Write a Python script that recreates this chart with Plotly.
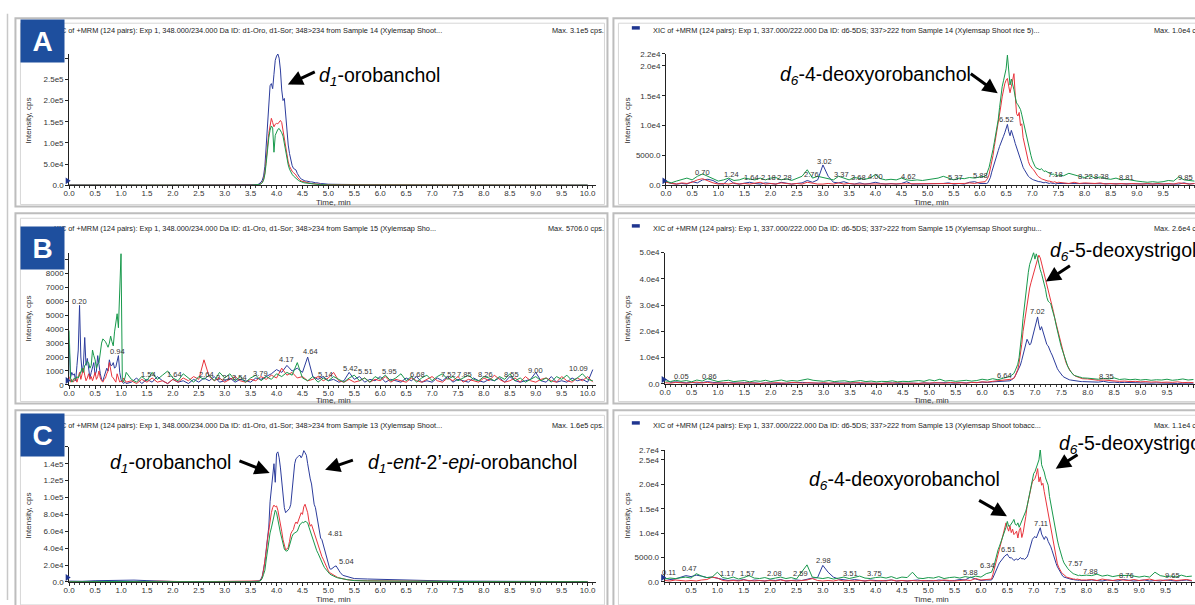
import plotly.graph_objects as go

# ======================= DATA =======================
# Intensities in kcps (thousands of counts per second).
# Each trace = list of segments: (start time [min], sampling step [min], values [kcps])

# ---- Panel A, left: 348>234 (d1-orobanchol), Sample 14 ----
LA_BLUE = [
    (0.0, 0.25, [0.8, 0.5, 0.3, 0.6, 0.4, 0.7, 0.5, 0.3, 0.4, 0.6, 0.3, 0.5, 0.4, 0.6]),
    (3.5, 0.025, [0.5, 0.3, 0.6, 0.8, 1.0, 1.5, 2.5, 4, 7, 12,
                  22, 45, 90, 150, 200, 235, 240, 228, 262, 295,
                  305, 310, 300, 272, 225, 200, 205, 165, 125, 95,
                  75, 58, 47, 40, 38, 36, 28, 22, 18, 15,
                  13, 12, 10, 10, 9, 9, 8, 8, 7, 7,
                  6, 6, 5, 5, 4, 4, 3.5, 3, 3, 3,
                  2.5]),
    (5.25, 0.25, [2.0, 1.5, 1.2, 0.9, 0.8, 0.6, 0.8, 0.5, 0.6, 0.4, 0.5, 0.3, 0.6, 0.4, 0.3, 0.5, 0.4, 0.3, 0.4, 0.3]),
]
LA_RED = [
    (0.0, 0.25, [0.3, 0.2, 0.4, 0.2, 0.3, 0.5, 0.2, 0.3, 0.2, 0.4, 0.3, 0.2, 0.5, 0.3]),
    (3.5, 0.025, [0.2, 0.3, 0.2, 0.4, 0.5, 0.8, 1.2, 2, 4, 7,
                  14, 30, 60, 95, 122, 140, 158, 148, 138, 144,
                  146, 145, 150, 153, 148, 130, 108, 88, 70, 55,
                  45, 38, 33, 30, 28, 24, 19, 15, 12, 10,
                  9, 8, 7, 6, 5.5, 5, 4.5, 4, 3.5, 3,
                  3, 2.5, 2.5, 2, 2, 1.8, 1.5, 1.5, 1.2, 1.2,
                  1.0]),
    (5.25, 0.25, [0.8, 0.6, 0.5, 0.4, 0.5, 0.3, 0.4, 0.3, 0.9, 0.3, 0.4, 0.3, 0.2, 0.4, 0.3, 0.8, 0.3, 0.2, 0.3, 0.2]),
]
LA_GREEN = [
    (0.0, 0.25, [0.2, 0.4, 0.3, 0.6, 0.2, 0.3, 0.5, 0.9, 0.2, 0.3, 0.2, 0.8, 0.3, 0.2]),
    (3.5, 0.025, [0.1, 0.2, 0.3, 0.3, 0.4, 0.6, 1, 1.8, 3.5, 6,
                  12, 26, 52, 85, 112, 130, 140, 135, 78, 118,
                  128, 132, 134, 130, 124, 116, 98, 78, 62, 48,
                  38, 31, 26, 22, 19, 16, 13, 11, 9.5, 8,
                  7, 6, 5.5, 5, 4.5, 4, 3.5, 3, 2.8, 2.5,
                  2.2, 2, 1.8, 1.6, 1.5, 1.3, 1.2, 1.0, 1.0, 0.9,
                  0.8]),
    (5.25, 0.25, [0.6, 0.5, 0.4, 0.3, 0.4, 0.3, 0.2, 0.3, 0.4, 0.3, 0.8, 0.2, 0.3, 0.2, 0.3, 0.2, 0.3, 0.2, 0.2, 0.3]),
]

# ---- Panel A, right: 337>222 (d6-5DS), Sample 14 ----
RA_BLUE = [
    (0.0, 0.1, [0.6, 0.3, 0.2, 0.3, 0.2, 0.6, 0.4, 0.9, 1.0, 0.8,
                0.3, 0.2, 1.0, 0.3, 0.2, 0.3, 0.5, 0.3, 0.2, 0.4,
                0.3, 0.2, 0.5, 0.3, 0.2, 0.3, 0.4, 0.8, 0.5, 0.9,
                3.4, 1.5, 0.5, 0.4, 0.6, 0.3, 0.2, 0.4, 0.2, 0.3,
                0.5, 0.3, 0.2, 0.3, 0.2, 0.3, 0.6, 0.2, 0.2, 0.3,
                0.2, 0.3, 0.2, 0.3, 0.4, 0.2, 0.3, 0.2, 0.5, 0.6,
                0.3]),
    (6.1, 0.025, [0.2, 0.3, 0.4, 0.8, 1.3, 2.2, 3.0, 3.6, 4.5, 5.2,
                  5.8, 6.5, 7.2, 7.8, 8.2, 8.8, 9.4, 10.2, 9.0, 8.3,
                  9.2, 8.6, 7.8, 7.0, 6.3, 5.8, 4.8, 4.0, 3.5, 3.0,
                  2.6, 2.2, 1.8, 1.5, 1.3, 1.1, 1.0, 0.9, 0.8, 0.7,
                  0.7, 0.6, 0.6, 0.5, 0.5, 0.4, 0.5, 0.4, 0.4, 0.3,
                  0.4, 0.3, 0.3, 0.3, 0.2, 0.3, 0.3]),
    (7.6, 0.1, [0.3, 0.2, 0.3, 0.2, 0.3, 0.2, 0.2, 0.3, 0.2, 0.2, 0.3, 0.2, 0.2,
                0.3, 0.2, 0.2, 0.2, 0.3, 0.2, 0.2, 0.3, 0.2, 0.2, 0.4, 0.2, 0.3]),
]
RA_RED = [
    (0.0, 0.1, [0.5, 0.3, 0.2, 0.4, 0.3, 0.5, 0.9, 1.1, 0.7, 0.4,
                0.2, 0.3, 0.2, 0.4, 0.2, 0.3, 0.2, 0.3, 0.5, 0.2,
                0.3, 0.2, 0.4, 0.3, 0.2, 0.3, 0.2, 0.5, 0.3, 0.2,
                0.2, 0.3, 0.2, 0.4, 0.2, 0.3, 0.2, 0.2, 0.3, 0.2,
                0.3, 0.2, 0.2, 0.3, 0.2, 0.2, 0.3, 0.2, 0.2, 0.3,
                0.2, 0.3, 0.2, 0.3, 0.2, 0.3, 0.2, 0.3, 0.4, 0.3,
                0.5]),
    (6.1, 0.025, [0.6, 0.9, 1.2, 1.8, 2.8, 3.8, 5.0, 6.5, 7.8, 9.0,
                  10.0, 11.5, 13.3, 14.8, 16.3, 17.0, 17.6, 17.9, 16.6, 15.5,
                  16.5, 17.5, 18.7, 15.0, 12.0, 11.6, 12.2, 10.0, 10.3, 8.0,
                  7.0, 6.0, 4.8, 4.0, 3.4, 3.0, 2.8, 2.6, 2.2, 1.8,
                  1.6, 1.4, 1.2, 1.1, 1.0, 0.9, 0.8, 0.8, 0.7, 0.7,
                  0.6, 0.6, 0.5, 0.6, 0.5, 0.4, 0.5]),
    (7.6, 0.1, [0.4, 0.3, 0.5, 0.3, 0.4, 0.3, 0.3, 0.4, 0.2, 0.3, 0.2, 0.3, 0.2,
                0.3, 0.2, 0.2, 0.3, 0.2, 0.3, 0.2, 0.3, 0.2, 0.4, 0.3, 0.2, 0.3]),
]
RA_GREEN = [
    (0.0, 0.1, [0.7, 0.4, 0.7, 0.9, 1.2, 0.9, 1.5, 1.9, 1.5, 1.2,
                0.7, 0.9, 1.2, 0.8, 0.9, 1.2, 1.1, 0.9, 1.2, 0.9,
                1.2, 1.3, 0.9, 1.1, 0.8, 1.2, 1.5, 2.6, 1.2, 1.5,
                1.3, 1.2, 0.9, 1.5, 1.2, 0.9, 1.3, 1.2, 1.0, 1.2,
                1.8, 1.1, 0.9, 1.0, 0.9, 1.2, 0.9, 0.8, 0.9, 0.8,
                0.9, 1.1, 1.2, 1.5, 1.2, 0.9, 1.2, 1.1, 1.3, 1.2,
                1.4]),
    (6.1, 0.025, [1.5, 1.8, 2.3, 3.0, 4.0, 4.8, 6.0, 7.2, 8.5, 9.5,
                  11.0, 13.0, 15.0, 16.5, 17.5, 18.5, 19.5, 21.8, 18.5, 16.8,
                  17.8, 17.0, 16.0, 14.8, 13.8, 13.5, 13.2, 12.7, 11.8, 10.8,
                  9.8, 8.5, 7.5, 6.6, 5.6, 5.0, 4.2, 3.5, 3.2, 2.9,
                  2.8, 2.7, 2.6, 2.8, 2.5, 2.3, 2.4, 2.3, 2.2, 2.0,
                  1.9, 1.8, 1.9, 1.7, 1.8, 1.6, 1.7]),
    (7.6, 0.1, [1.6, 2.0, 1.7, 1.5, 1.3, 1.6, 1.2, 1.4, 1.1, 1.0, 1.2, 0.9, 1.0,
                0.8, 0.7, 0.6, 0.5, 0.6, 0.5, 0.6, 0.8, 0.7, 1.4, 0.9, 0.8, 0.7]),
]

# ---- Panel B, left: 348>234, Sample 15 ----
LB_BLUE = [
    (0.0, 0.025, [2.9, 0.5, 0.9, 0.7, 0.8, 0.3, 1.4, 2.5, 5.7, 2.0,
                  0.9, 1.5, 3.4, 1.4, 1.9, 1.0, 0.5, 0.9, 1.3, 1.6,
                  0.7, 1.0, 2.1, 1.2, 0.8, 0.4, 0.3, 0.6, 0.9, 1.2,
                  1.0, 1.8, 1.4, 1.4, 1.6, 1.2, 1.3, 1.8, 2.1, 0.9,
                  0.4, 0.2, 0.1, 0.2, 0.1]),
    (1.2, 0.1, [0.2, 0.5, 0.1, 0.4, 0.2, 0.6, 0.3, 0.1, 0.4, 0.2,
                0.3, 0.1, 0.4, 0.2, 0.5, 0.3, 0.6, 0.2, 0.3, 0.5,
                0.2, 0.4, 0.3, 0.2, 0.5, 0.4, 0.6, 0.8, 1.1, 0.9,
                1.4, 1.0, 1.2, 0.9, 2.0, 0.6, 0.4, 0.6, 0.3, 0.4,
                0.2, 0.3, 0.9, 0.4, 0.6, 0.2, 0.4, 0.3, 0.6, 0.2,
                0.4, 0.3, 0.2, 0.5, 0.3, 0.6, 0.2, 0.3, 0.2, 0.5,
                0.3, 0.6, 0.2, 0.4, 0.3, 0.2, 0.5, 0.3, 0.2, 0.4,
                0.3, 0.5, 0.2, 0.6, 0.3, 0.2, 0.3, 0.4, 0.9, 0.3,
                0.2, 0.6, 0.2, 0.3, 0.2, 0.5, 0.3, 0.4, 0.2, 1.1]),
]
LB_RED = [
    (0.0, 0.025, [0.6, 0.2, 0.4, 0.2, 0.3, 0.5, 0.2, 0.6, 0.9, 0.4,
                  0.8, 1.2, 0.7, 0.3, 0.5, 0.8, 0.4, 0.6, 0.3, 0.7,
                  0.9, 0.4, 0.6, 1.0, 0.5, 0.3, 0.2, 0.4, 0.5, 0.8,
                  1.0, 1.6, 1.2, 0.6, 0.5, 0.3, 0.2, 0.8, 0.4, 0.2,
                  0.3, 0.2, 0.5, 0.3, 0.2]),
    (1.2, 0.1, [0.3, 0.1, 0.4, 0.2, 0.5, 0.2, 0.3, 0.1, 0.4, 0.2,
                0.5, 0.3, 0.6, 0.4, 1.8, 0.6, 0.3, 0.5, 0.2, 0.4,
                0.6, 0.3, 0.2, 0.4, 0.3, 0.6, 0.4, 0.7, 0.5, 1.2,
                0.7, 0.9, 0.5, 0.6, 0.3, 0.4, 0.6, 0.3, 0.5, 0.9,
                0.3, 0.2, 0.4, 0.2, 0.3, 0.5, 0.2, 0.4, 0.3, 0.6,
                0.2, 0.4, 0.3, 0.2, 0.5, 0.3, 0.2, 0.4, 0.6, 0.3,
                0.2, 0.5, 0.3, 0.6, 0.2, 0.4, 0.3, 0.2, 0.5, 0.3,
                0.7, 0.4, 0.2, 0.3, 0.5, 0.2, 0.6, 0.3, 0.2, 0.4,
                0.5, 0.3, 0.2, 0.6, 0.3, 0.2, 0.5, 0.3, 0.6, 0.2]),
]
LB_GREEN = [
    (0.0, 0.025, [3.9, 0.5, 0.2, 0.3, 0.5, 0.4, 0.6, 0.5, 0.7, 1.0,
                  1.2, 0.9, 1.4, 1.5, 1.7, 1.6, 1.2, 1.4, 2.5, 2.1,
                  1.8, 1.2, 1.5, 1.6, 2.5, 3.0, 3.3, 3.2, 3.1, 2.9,
                  2.7, 3.0, 3.5, 3.1, 2.8, 3.8, 4.6, 5.1, 4.1, 6.4,
                  9.4, 0.4, 0.2, 0.5, 0.9]),
    (1.2, 0.1, [0.4, 0.2, 0.6, 0.3, 0.9, 0.4, 0.7, 1.0, 0.5, 0.3,
                0.8, 0.5, 0.2, 0.6, 0.4, 0.7, 0.3, 0.9, 0.5, 0.8,
                0.3, 0.6, 0.2, 0.5, 0.7, 0.3, 0.6, 0.4, 0.8, 0.6,
                0.9, 0.7, 1.6, 0.5, 0.3, 0.6, 0.2, 0.5, 0.3, 0.6,
                0.4, 0.2, 0.5, 0.7, 0.3, 0.5, 0.2, 0.6, 0.4, 0.7,
                0.3, 0.5, 0.8, 0.3, 0.6, 0.2, 0.5, 0.7, 0.3, 0.6,
                0.8, 0.4, 0.6, 0.3, 0.5, 0.7, 0.4, 0.3, 0.6, 0.5,
                0.3, 0.6, 0.4, 0.8, 0.3, 0.5, 0.2, 0.4, 0.6, 0.3,
                0.5, 0.2, 0.6, 0.4, 0.7, 0.3, 0.5, 0.8, 0.4, 0.3]),
]

# ---- Panel B, right: 337>222, Sample 15 ----
RB_BLUE = [
    (0.0, 0.1, [2.0, 0.6, 0.8, 0.5, 0.4, 0.6, 0.3, 0.5, 0.9, 0.6,
                0.4, 0.3, 0.5, 0.4, 0.3, 0.5, 0.3, 0.4, 0.2, 0.4,
                0.3, 0.4, 0.2, 0.3, 0.4, 0.3, 0.6, 0.4, 0.3, 0.4,
                0.3, 0.2, 0.4, 0.3, 0.2, 0.3, 0.4, 0.2, 0.3, 0.2,
                0.3, 0.2, 0.3, 0.4, 0.2, 0.3, 0.2, 0.3, 0.2, 0.4,
                0.3, 0.4, 0.3, 0.5, 0.4, 0.3, 0.5, 0.4, 0.6, 0.5,
                0.7, 0.6, 0.8, 0.9, 1.0]),
    (6.5, 0.025, [1.0, 1.2, 1.5, 1.8, 2.2, 3.0, 4.0, 5.0, 6.0, 7.2,
                  9.0, 11.0, 13.0, 15.0, 17.0, 16.0, 14.8, 15.5, 17.5, 20.0,
                  21.5, 23.0, 25.5, 22.5, 20.5, 21.8, 20.0, 18.5, 17.0, 15.0,
                  14.5, 13.0, 12.0, 11.0, 9.5, 8.0, 6.8, 5.8, 5.0, 4.2,
                  3.5, 3.0, 2.6, 2.3, 2.0, 1.8, 1.6, 1.5, 1.4, 1.3,
                  1.2, 1.1, 1.1, 1.0, 1.0, 0.9, 0.9]),
    (8.0, 0.1, [0.8, 0.9, 0.7, 1.0, 0.6, 0.7, 0.5, 0.6, 0.5, 0.4, 0.5,
                0.4, 0.3, 0.4, 0.3, 0.4, 0.3, 0.2, 0.3, 0.2, 0.3]),
]
RB_RED = [
    (0.0, 0.1, [0.5, 0.3, 0.6, 0.4, 0.3, 0.5, 0.7, 0.4, 0.6, 0.3,
                0.4, 0.3, 0.5, 0.2, 0.4, 0.3, 0.5, 0.3, 0.2, 0.4,
                0.3, 0.5, 0.4, 0.3, 0.6, 0.4, 0.3, 0.5, 0.4, 0.3,
                0.5, 0.3, 0.4, 0.2, 0.3, 0.4, 0.3, 0.5, 0.3, 0.4,
                0.3, 0.2, 0.4, 0.3, 0.5, 0.3, 0.4, 0.3, 0.2, 0.4,
                0.3, 0.5, 0.4, 0.3, 0.6, 0.4, 0.5, 0.3, 0.6, 0.5,
                0.8, 0.7, 1.0, 1.2, 1.4]),
    (6.5, 0.025, [1.5, 1.6, 1.8, 2.0, 2.1, 3.0, 4.0, 5.5, 8.0, 11.0,
                  15.0, 20.0, 23.5, 27.5, 31.0, 34.0, 36.5, 38.5, 40.5, 42.5,
                  44.0, 45.5, 47.5, 49.0, 48.0, 46.0, 44.0, 42.5, 40.0, 38.0,
                  36.0, 34.0, 32.0, 29.5, 27.5, 25.0, 23.0, 20.5, 18.0, 16.0,
                  14.0, 12.0, 10.5, 9.0, 7.5, 6.5, 5.5, 4.8, 4.2, 3.6,
                  3.2, 2.9, 2.7, 2.5, 2.3, 2.2, 2.0]),
    (8.0, 0.1, [1.9, 1.6, 1.4, 1.5, 1.3, 1.2, 1.0, 1.1, 0.9, 1.0, 0.8,
                0.9, 0.7, 0.8, 0.6, 0.7, 0.6, 0.8, 0.5, 0.6, 0.5]),
]
RB_GREEN = [
    (0.0, 0.1, [1.2, 0.9, 1.4, 1.0, 1.3, 0.8, 1.5, 1.1, 2.0, 1.3,
                0.9, 1.2, 1.4, 0.9, 1.1, 1.3, 0.8, 1.2, 1.0, 1.4,
                0.9, 1.2, 1.5, 1.0, 1.3, 1.1, 1.6, 1.9, 1.4, 1.2,
                1.0, 1.3, 0.9, 1.1, 1.2, 0.8, 1.0, 1.3, 0.9, 1.1,
                0.8, 1.0, 0.9, 1.2, 0.8, 1.0, 0.9, 1.1, 1.3, 1.0,
                1.6, 1.2, 1.8, 1.1, 1.3, 1.0, 1.2, 1.4, 1.1, 1.3,
                1.8, 1.5, 2.0, 1.6, 2.2]),
    (6.5, 0.025, [2.5, 2.8, 3.2, 3.5, 4.0, 5.0, 6.2, 7.5, 10.0, 14.0,
                  19.0, 25.0, 30.0, 34.5, 38.5, 42.5, 45.5, 47.0, 48.8, 50.0,
                  47.5, 49.5, 48.0, 45.5, 43.5, 42.0, 40.0, 38.5, 36.0, 33.0,
                  31.5, 31.0, 30.5, 28.5, 27.0, 25.0, 22.5, 20.0, 17.8, 16.0,
                  14.0, 12.5, 11.0, 9.5, 7.5, 6.5, 5.5, 4.8, 4.0, 3.5,
                  3.2, 3.0, 2.8, 2.7, 2.6, 2.5, 2.3]),
    (8.0, 0.1, [2.2, 2.0, 1.8, 2.1, 1.9, 2.3, 1.7, 1.9, 1.6, 1.8, 1.5,
                1.7, 1.4, 1.6, 1.5, 1.8, 1.4, 1.6, 1.9, 1.5, 1.7]),
]

# ---- Panel C, left: 348>234, Sample 13 ----
LC_BLUE = [
    (0.0, 0.25, [1.0, 0.8, 1.5, 2.0, 1.8, 2.2, 1.6, 0.8, 0.6, 0.5, 0.7, 0.5, 0.4, 0.6, 0.5]),
    (3.6, 0.025, [0.5, 0.8, 1.2, 2.0, 3.5, 7.0, 14.0, 24.0, 38.0, 52.0,
                  65.0, 95.0, 112.0, 130.0, 140.0, 118.0, 152.0, 154.0, 147.0, 135.0,
                  118.0, 100.0, 88.0, 82.0, 84.0, 86.0, 87.0, 92.0, 110.0, 128.0,
                  140.0, 146.0, 148.0, 149.0, 150.0, 147.0, 150.0, 155.5, 153.0, 150.0,
                  140.0, 128.0, 122.0, 116.0, 102.0, 92.0, 88.0, 78.0, 70.0, 60.0,
                  52.0, 50.0, 44.0, 40.0, 34.0, 26.0, 20.0, 16.0, 15.0, 16.5,
                  17.5, 18.5, 19.0, 17.0, 14.0, 11.5, 9.5, 8.0, 7.5, 7.0,
                  6.5, 6.0, 5.8, 5.5, 5.0, 4.5, 4.0]),
    (5.75, 0.25, [3.5, 3.0, 2.5, 2.0, 1.8, 1.5, 1.2, 1.0, 0.9, 0.8, 0.7, 0.6, 0.6, 0.5, 0.5, 0.4, 0.4, 0.4]),
]
LC_RED = [
    (0.0, 0.25, [0.4, 0.3, 0.5, 0.6, 0.4, 0.3, 0.5, 0.9, 0.3, 0.4, 0.3, 0.5, 0.3, 0.4, 0.3]),
    (3.6, 0.025, [0.3, 0.5, 0.8, 1.2, 2.5, 6.0, 14.0, 24.0, 36.0, 50.0,
                  62.0, 72.0, 82.0, 88.0, 91.0, 89.0, 90.0, 85.0, 78.0, 70.0,
                  60.0, 50.0, 42.0, 38.0, 39.0, 41.0, 48.0, 57.0, 60.0, 62.0,
                  68.0, 71.0, 69.0, 74.0, 80.0, 82.0, 80.0, 89.0, 92.0, 88.0,
                  82.0, 72.0, 66.0, 68.0, 63.0, 57.0, 52.0, 48.0, 44.0, 38.0,
                  34.0, 30.0, 27.0, 23.0, 19.0, 16.0, 13.0, 11.0, 10.0, 8.5,
                  7.5, 6.5, 6.0, 5.5, 5.0, 4.5, 4.0, 3.6, 3.3, 3.0,
                  2.8, 2.6, 2.4, 2.2, 2.0, 1.9, 1.8]),
    (5.75, 0.25, [1.4, 1.2, 1.0, 0.9, 0.8, 0.7, 0.8, 0.6, 0.5, 0.6, 0.5, 0.4, 0.5, 0.4, 0.3, 0.4, 0.3, 0.3]),
]
LC_GREEN = [
    (0.0, 0.25, [0.3, 0.5, 0.4, 0.3, 0.6, 0.4, 0.3, 0.5, 0.3, 0.6, 0.4, 0.3, 0.5, 0.3, 0.2]),
    (3.6, 0.025, [0.2, 0.4, 0.6, 1.0, 2.0, 4.5, 9.0, 14.0, 26.0, 38.0,
                  50.0, 58.0, 64.0, 72.0, 80.0, 85.0, 82.0, 73.0, 66.0, 58.0,
                  52.0, 44.0, 39.0, 37.0, 36.5, 38.0, 44.0, 50.0, 54.0, 57.0,
                  58.0, 59.5, 60.0, 64.0, 68.0, 69.0, 71.0, 70.0, 72.0, 71.0,
                  70.0, 65.0, 60.0, 57.0, 52.0, 47.0, 42.0, 37.0, 34.0, 30.0,
                  27.0, 24.0, 20.0, 17.0, 15.0, 13.0, 11.0, 9.5, 8.5, 7.5,
                  6.5, 6.0, 5.5, 5.0, 4.6, 4.2, 3.8, 3.5, 3.2, 3.0,
                  2.8, 2.6, 2.4, 2.2, 2.0, 1.8, 1.6]),
    (5.75, 0.25, [1.2, 1.0, 0.9, 0.8, 0.7, 0.6, 0.5, 0.6, 0.5, 0.4, 0.5, 0.4, 0.3, 0.4, 0.3, 0.3, 0.4, 0.3]),
]

# ---- Panel C, right: 337>222, Sample 13 ----
RC_BLUE = [
    (0.0, 0.1, [0.8, 0.5, 0.6, 1.0, 1.3, 1.1, 1.4, 1.2, 0.9, 1.0,
                0.8, 0.5, 0.3, 0.4, 0.3, 0.5, 0.2, 0.4, 0.3, 0.2,
                0.4, 0.3, 0.5, 0.2, 0.3, 0.4, 0.3, 0.6, 0.8, 0.9,
                3.4, 2.0, 1.0, 0.6, 0.4, 0.3, 0.5, 0.3, 0.2, 0.4,
                0.3, 0.2, 0.3, 0.4, 0.2, 0.3, 0.2, 0.3, 0.4, 0.2,
                0.3, 0.2, 0.4, 0.3, 0.2, 0.3, 0.5, 0.4, 1.0, 0.6,
                0.3, 0.4]),
    (6.2, 0.025, [0.4, 0.8, 1.35, 2.0, 2.7, 3.3, 3.9, 4.3, 4.6, 5.0,
                  5.3, 5.5, 5.7, 5.2, 4.9, 5.0, 4.6, 4.4, 4.6, 4.7,
                  4.5, 4.8, 5.0, 4.7, 4.8, 4.6, 4.9, 5.1, 5.8, 6.8,
                  7.8, 8.7, 9.1, 9.3, 9.0, 9.6, 10.4, 11.1, 9.8, 9.2,
                  8.7, 9.3, 9.1, 8.3, 7.8, 7.2, 6.4, 5.4, 4.6, 3.8,
                  3.1, 2.6, 2.0, 1.6, 1.2, 1.0, 0.9, 0.8, 0.7, 0.6,
                  0.6, 0.5, 0.5, 0.4, 0.4, 0.4, 0.3, 0.4, 0.3]),
    (8.0, 0.1, [0.3, 0.4, 0.3, 0.2, 0.4, 0.3, 0.2, 0.5, 0.3, 0.2, 0.3,
                0.4, 0.2, 0.3, 0.2, 0.4, 0.3, 0.2, 0.3, 0.4, 0.2]),
]
RC_RED = [
    (0.0, 0.1, [0.3, 0.2, 0.4, 0.3, 0.2, 0.3, 0.2, 0.4, 0.5, 1.0,
                0.8, 0.3, 0.2, 0.3, 0.2, 0.4, 0.3, 0.2, 0.3, 0.2,
                0.3, 0.2, 0.4, 0.2, 0.3, 0.2, 0.3, 0.4, 0.7, 0.3,
                0.2, 0.3, 0.2, 0.4, 0.2, 0.3, 0.2, 0.3, 0.2, 0.3,
                0.2, 0.3, 0.2, 0.4, 0.2, 0.3, 0.2, 0.3, 0.2, 0.3,
                0.2, 0.3, 0.2, 0.4, 0.3, 0.2, 0.3, 0.4, 0.3, 0.7,
                0.4, 0.5]),
    (6.2, 0.025, [0.6, 1.5, 2.7, 3.8, 4.7, 5.7, 6.7, 7.7, 8.7, 10.0,
                  11.0, 12.1, 11.2, 10.4, 11.5, 10.1, 10.8, 9.7, 10.0, 10.4,
                  9.0, 10.5, 11.1, 9.1, 10.1, 11.5, 13.4, 15.5, 17.0, 18.1,
                  19.3, 20.5, 20.9, 21.2, 22.0, 23.2, 20.5, 21.5, 19.8, 20.2,
                  18.5, 17.0, 15.5, 13.8, 12.1, 10.7, 9.4, 7.8, 6.1, 4.9,
                  3.7, 3.0, 2.4, 2.0, 1.7, 1.4, 1.2, 1.0, 0.9, 0.8,
                  0.7, 0.7, 0.6, 0.6, 0.5, 0.6, 0.5, 0.5, 0.4]),
    (8.0, 0.1, [0.4, 0.5, 0.3, 0.6, 0.4, 0.3, 0.5, 0.4, 0.3, 0.5, 0.3,
                0.4, 0.6, 0.3, 0.4, 0.3, 0.5, 0.3, 0.4, 0.5, 0.3]),
]
RC_GREEN = [
    (0.0, 0.1, [0.6, 0.8, 0.7, 0.9, 1.0, 0.8, 1.7, 1.2, 0.9, 1.0,
                2.0, 0.9, 0.7, 1.0, 0.6, 0.9, 1.3, 0.8, 0.7, 0.9,
                0.6, 0.8, 1.0, 0.7, 0.9, 0.6, 2.0, 3.5, 1.0, 0.8,
                0.7, 0.9, 0.6, 0.8, 1.0, 0.7, 0.9, 1.2, 0.8, 0.7,
                0.9, 1.0, 0.8, 1.1, 0.7, 1.0, 0.9, 2.0, 0.8, 0.7,
                0.9, 0.8, 1.1, 0.7, 0.9, 1.0, 0.8, 1.1, 0.9, 1.2,
                1.0, 1.7]),
    (6.2, 0.025, [2.0, 2.6, 3.4, 4.5, 5.8, 6.6, 7.3, 8.1, 8.8, 9.6,
                  10.3, 11.2, 12.4, 11.4, 11.5, 11.8, 12.3, 12.8, 11.8, 11.6,
                  12.1, 11.2, 11.8, 12.4, 13.0, 13.6, 14.5, 15.5, 16.8, 18.0,
                  19.5, 21.2, 22.2, 22.6, 23.5, 24.4, 25.0, 27.2, 24.0, 23.2,
                  22.5, 21.3, 20.4, 19.8, 17.5, 16.0, 14.5, 12.5, 11.0, 9.7,
                  8.6, 7.4, 6.3, 5.5, 4.6, 3.9, 3.4, 3.0, 2.7, 2.4,
                  2.1, 1.9, 1.7, 1.6, 1.5, 1.4, 1.3, 1.4, 1.3]),
    (8.0, 0.1, [1.4, 1.3, 1.6, 1.2, 1.4, 1.1, 1.3, 1.4, 1.35, 1.2, 1.0,
                1.2, 1.0, 2.0, 1.3, 1.1, 1.2, 1.0, 1.4, 1.1, 1.2]),
]

# ---- peak labels (retention-time text, drawn position: time [min], height [kcps]) ----
LA_LAB = ["4.02"]
LA_LAB_T = [4.02]
LA_LAB_V = [319.3]
RA_LAB = ["0.70", "1.24", "1.64", "2.18", "2.28", "2.76", "3.02", "3.37", "3.68", "4.00",
          "4.62", "5.37", "5.88", "6.52", "7.18", "8.22", "8.38", "8.81", "9.85"]
RA_LAB_T = [0.70, 1.25, 1.64, 1.95, 2.27, 2.78, 3.03, 3.36, 3.68, 4.00,
            4.63, 5.53, 6.02, 6.51, 7.45, 8.02, 8.33, 8.81, 9.92]
RA_LAB_V = [2.19, 1.76, 1.37, 1.37, 1.37, 1.86, 4.06, 1.76, 1.37, 1.48,
            1.48, 1.37, 1.60, 11.07, 1.76, 1.48, 1.48, 1.37, 1.37]
LB_LAB = ["0.20", "0.94", "1.54", "1.64", "2.64", "3.21", "3.54", "3.79", "4.17", "4.64", "5.14",
          "5.42", "5.51", "5.95", "6.68", "7.52", "7.85", "8.26", "8.55", "9.00", "10.09"]
LB_LAB_T = [0.19, 0.93, 1.53, 2.04, 2.65, 2.97, 3.29, 3.69, 4.19, 4.65, 4.95,
            5.43, 5.72, 6.17, 6.71, 7.32, 7.63, 8.03, 8.54, 9.00, 9.82]
LB_LAB_V = [5.99, 2.40, 0.78, 0.78, 0.78, 0.54, 0.54, 0.83, 1.81, 2.40, 0.78,
            1.18, 0.95, 0.95, 0.78, 0.78, 0.78, 0.78, 0.78, 1.06, 1.18]
RB_LAB = ["0.05", "0.86", "6.64", "7.02", "8.35"]
RB_LAB_T = [0.30, 0.83, 6.43, 7.05, 8.35]
RB_LAB_V = [2.77, 3.00, 3.15, 27.7, 2.77]
LC_LAB = ["3.99", "4.53", "4.81", "5.04"]
LC_LAB_T = [4.06, 4.62, 5.13, 5.34]
LC_LAB_V = [161.4, 162.6, 56.9, 24.3]
RC_LAB = ["0.11", "0.47", "1.17", "1.57", "2.08", "2.59", "2.98", "3.51", "3.75", "5.88",
          "6.34", "6.51", "7.11", "7.57", "7.88", "8.76", "9.65"]
RC_LAB_T = [0.09, 0.48, 1.19, 1.58, 2.09, 2.57, 3.01, 3.53, 3.98, 5.81,
            6.13, 6.52, 7.13, 7.80, 8.07, 8.76, 9.63]
RC_LAB_V = [2.02, 2.70, 1.69, 1.69, 1.69, 1.69, 4.37, 1.76, 1.69, 2.02,
            3.36, 6.59, 11.96, 3.70, 2.22, 1.34, 1.34]

# ---- axis tick values / labels ----
X_TICKS = [i * 0.5 for i in range(21)]
X_TICKS_RC = [i * 0.5 for i in range(1, 21)]
LA_YT = [0, 5e4, 1e5, 1.5e5, 2e5, 2.5e5, 3e5]
LA_YL = ["0.0", "5.0e4", "1.0e5", "1.5e5", "2.0e5", "2.5e5", "3.0e5"]
RA_YT = [0, 5000, 1e4, 1.5e4, 2e4, 2.2e4]
RA_YL = ["0.0", "5000.0", "1.0e4", "1.5e4", "2.0e4", "2.2e4"]
LB_YT = [i * 1000 for i in range(10)]
LB_YL = [str(i * 1000) for i in range(10)]
RB_YT = [0, 1e4, 2e4, 3e4, 4e4, 5e4]
RB_YL = ["0.0", "1.0e4", "2.0e4", "3.0e4", "4.0e4", "5.0e4"]
LC_YT = [0, 2e4, 4e4, 6e4, 8e4, 1e5, 1.2e5, 1.4e5, 1.6e5]
LC_YL = ["0.0", "2.0e4", "4.0e4", "6.0e4", "8.0e4", "1.0e5", "1.2e5", "1.4e5", "1.6e5"]
RC_YT = [0, 5000, 1e4, 1.5e4, 2e4, 2.5e4, 2.7e4]
RC_YL = ["0.0", "5000.0", "1.0e4", "1.5e4", "2.0e4", "2.5e4", "2.7e4"]

HDR_L = "XIC of +MRM (124 pairs): Exp 1, 348.000/234.000 Da ID: d1-Oro, d1-Sor; 348>234 from Sample {}"
HDR_R = "XIC of +MRM (124 pairs): Exp 1, 337.000/222.000 Da ID: d6-5DS; 337>222 from Sample {}"

# ======================= FIGURE =======================
W, H = 1195, 605
FONT = "Liberation Sans, Arial, sans-serif"
BLUE, RED, GREEN = "#2c3c9c", "#e8343c", "#18994c"


def px(x):
    return x / W


def py(y):
    return 1 - y / H


def build(segs):
    t, v = [], []
    for t0, dt, vals in segs:
        for i, val in enumerate(vals):
            t.append(round(t0 + i * dt, 4))
            v.append(val * 1000.0)
    return t, v


# panel geometry (pixels): x-domain, x-range, y-domain (top, bottom), y-max
PANELS = [
    dict(key="LA", xd=(63.5, 593.4), xr=10.17, yd=(50.7, 184.0), ymax=3.1e5,
         traces=(LA_BLUE, LA_RED, LA_GREEN), yt=(LA_YT, LA_YL), xt=X_TICKS,
         lab=(LA_LAB, LA_LAB_T, LA_LAB_V)),
    dict(key="RA", xd=(663.3, 1195.0), xr=10.11, yd=(50.7, 184.0), ymax=2.2e4,
         traces=(RA_BLUE, RA_RED, RA_GREEN), yt=(RA_YT, RA_YL), xt=X_TICKS,
         lab=(RA_LAB, RA_LAB_T, RA_LAB_V)),
    dict(key="LB", xd=(63.5, 593.4), xr=10.17, yd=(252.8, 386.7), ymax=9450,
         traces=(LB_BLUE, LB_RED, LB_GREEN), yt=(LB_YT, LB_YL), xt=X_TICKS,
         lab=(LB_LAB, LB_LAB_T, LB_LAB_V)),
    dict(key="RB", xd=(662.5, 1195.0), xr=10.03, yd=(252.3, 385.7), ymax=5e4,
         traces=(RB_BLUE, RB_RED, RB_GREEN), yt=(RB_YT, RB_YL), xt=X_TICKS,
         lab=(RB_LAB, RB_LAB_T, RB_LAB_V)),
    dict(key="LC", xd=(63.5, 593.4), xr=10.17, yd=(449.5, 586.7), ymax=1.6e5,
         traces=(LC_BLUE, LC_RED, LC_GREEN), yt=(LC_YT, LC_YL), xt=X_TICKS,
         lab=(LC_LAB, LC_LAB_T, LC_LAB_V)),
    dict(key="RC", xd=(662.0, 1195.0), xr=10.06, yd=(452.8, 586.7), ymax=2.7e4,
         traces=(RC_BLUE, RC_RED, RC_GREEN), yt=(RC_YT, RC_YL), xt=X_TICKS_RC,
         lab=(RC_LAB, RC_LAB_T, RC_LAB_V)),
]

fig = go.Figure()
layout = dict(width=W, height=H, margin=dict(l=0, r=0, t=0, b=0),
              paper_bgcolor="white", plot_bgcolor="white", showlegend=False,
              font=dict(family=FONT, size=8, color="#333"))
annotations = []
shapes = []

for i, p in enumerate(PANELS):
    n = "" if i == 0 else str(i + 1)
    xa, ya = "x" + n, "y" + n
    for segs, col in zip(p["traces"], (BLUE, RED, GREEN)):
        t, v = build(segs)
        fig.add_trace(go.Scatter(x=t, y=v, mode="lines", xaxis=xa, yaxis=ya,
                                 line=dict(color=col, width=1), hoverinfo="skip"))
    layout["xaxis" + n] = dict(
        domain=[px(p["xd"][0]), px(p["xd"][1])], range=[0, p["xr"]], anchor=ya,
        showline=True, linecolor="#222", linewidth=1, ticks="outside", ticklen=3,
        tickcolor="#222", tickmode="array", tickvals=p["xt"],
        ticktext=[f"{v:.1f}" for v in p["xt"]], ticklabelstandoff=-3,
        tickfont=dict(family=FONT, size=8, color="#333"),
        minor=dict(tickmode="linear", tick0=0, dtick=0.1, ticks="outside", ticklen=2, tickcolor="#444"),
        showgrid=False, zeroline=False, fixedrange=True)
    layout["yaxis" + n] = dict(
        domain=[py(p["yd"][1]), py(p["yd"][0])], range=[0, p["ymax"]], anchor=xa,
        showline=True, linecolor="#222", linewidth=1, ticks="outside", ticklen=3,
        tickcolor="#222", tickmode="array", tickvals=p["yt"][0], ticktext=p["yt"][1],
        tickfont=dict(family=FONT, size=8, color="#333"),
        showgrid=False, zeroline=False, fixedrange=True)
    labs, lt, lv = p["lab"]
    for txt, tt, vv in zip(labs, lt, lv):
        annotations.append(dict(x=tt, y=vv * 1000, xref=xa, yref=ya, text=txt, showarrow=False,
                                font=dict(family=FONT, size=7.5, color="#333"),
                                xanchor="center", yanchor="middle"))
    # small start-of-trace marker at the foot of each y axis
    ax0, yb = p["xd"][0], p["yd"][1]
    shapes.append(dict(type="path", xref="paper", yref="paper",
                       path=f"M {px(ax0 - 3.5)} {py(yb - 8)} L {px(ax0 - 3.5)} {py(yb - 1)} "
                            f"L {px(ax0 + 1.5)} {py(yb - 4.5)} Z",
                       fillcolor="#1f3590", line=dict(width=0)))

# ---- panel frames ----
ROWS = [(14.5, 205.5), (212.5, 405.5), (412.5, 612.0)]
COLS = [(9.5, 604.5), (610.5, 1202.0)]
for (y0, y1) in ROWS:
    for (x0, x1) in COLS:
        shapes.append(dict(type="rect", xref="paper", yref="paper", x0=px(x0), x1=px(x1),
                           y0=py(y1), y1=py(y0), line=dict(color="#bdbdbd", width=2)))
        shapes.append(dict(type="rect", xref="paper", yref="paper", x0=px(x0 + 5), x1=px(x1 - 3),
                           y0=py(y1 - 2), y1=py(y0 + 5), line=dict(color="#d6d6d6", width=1)))
shapes.append(dict(type="line", xref="paper", yref="paper", x0=px(1.5), x1=px(1.5), y0=0, y1=py(10),
                   line=dict(color="#c8c8c8", width=1.5)))

# ---- headers, axis titles ----
HEAD_Y = [27, 228, 428]
SAMPLES = [("14 (Xylemsap Shoot...", "14 (Xylemsap Shoot rice 5)...", "Max. 3.1e5 cps.", "Max. 1.0e4 cps."),
           ("15 (Xylemsap Sho...", "15 (Xylemsap Shoot surghu...", "Max. 5706.0 cps.", "Max. 2.6e4 cps."),
           ("13 (Xylemsap Shoot...", "13 (Xylemsap Shoot tobacc...", "Max. 1.6e5 cps.", "Max. 1.1e4 cps.")]
YT_Y = [118.5, 319.5, 519.5]
XT_Y = [202.0, 402.5, 604.0]
hfont = dict(family=FONT, size=7.35, color="#222")
for r in range(3):
    sl, sr, ml, mr = SAMPLES[r]
    annotations.append(dict(x=px(46), y=py(HEAD_Y[r]), xref="paper", yref="paper", text=HDR_L.format(sl),
                            showarrow=False, xanchor="left", yanchor="middle", font=hfont))
    annotations.append(dict(x=px(648), y=py(HEAD_Y[r]), xref="paper", yref="paper", text=HDR_R.format(sr),
                            showarrow=False, xanchor="left", yanchor="middle", font=hfont))
    annotations.append(dict(x=px(603), y=py(HEAD_Y[r]), xref="paper", yref="paper", text=ml,
                            showarrow=False, xanchor="right", yanchor="middle", font=hfont))
    annotations.append(dict(x=px(1152), y=py(HEAD_Y[r]), xref="paper", yref="paper", text=mr,
                            showarrow=False, xanchor="left", yanchor="middle", font=hfont))
    for xc in (23, 625):
        annotations.append(dict(x=px(xc), y=py(YT_Y[r]), xref="paper", yref="paper", text="Intensity, cps",
                                textangle=-90, showarrow=False, xanchor="center", yanchor="middle",
                                font=dict(family=FONT, size=8, color="#333")))
    for xc in (329.5, 930):
        annotations.append(dict(x=px(xc), y=py(XT_Y[r]), xref="paper", yref="paper", text="Time, min",
                                showarrow=False, xanchor="center", yanchor="middle",
                                font=dict(family=FONT, size=8, color="#333")))
    # legend swatch on right panels
    shapes.append(dict(type="rect", xref="paper", yref="paper", x0=px(629), x1=px(637),
                       y0=py(HEAD_Y[r] - 1), y1=py(HEAD_Y[r] - 4.5), fillcolor="#1f3590",
                       line=dict(width=0)))

# ---- compound names and arrows ----
big = dict(family=FONT, size=19.5, color="black")
NAMES = [
    ("<i>d<sub>1</sub></i>-orobanchol", 313, 74),
    ("<i>d<sub>6</sub></i>-4-deoxyorobanchol", 776, 73),
    ("<i>d<sub>6</sub></i>-5-deoxystrigol", 1047, 251),
    ("<i>d<sub>1</sub></i>-orobanchol", 103, 466),
    ("<i>d<sub>1</sub></i>-<i>ent</i>-2\u2019-<i>epi</i>-orobanchol", 362, 466),
    ("<i>d<sub>6</sub></i>-4-deoxyorobanchol", 805, 484),
    ("<i>d<sub>6</sub></i>-5-deoxystrigol", 1056, 447),
]
for txt, x, y in NAMES:
    annotations.append(dict(x=px(x), y=py(y), xref="paper", yref="paper", text=txt, showarrow=False,
                            xanchor="left", yanchor="middle", font=big))
ARROWS = [  # (tail x, tail y, head x, head y) in pixels
    (311.7, 68.3, 283.3, 81.7),
    (968.3, 70.0, 996.7, 90.7),
    (1070.7, 265.0, 1045.0, 281.7),
    (233.3, 463.3, 265.0, 476.0),
    (350.0, 462.7, 320.7, 472.7),
    (976.7, 503.3, 1006.0, 520.0),
    (1078.3, 456.7, 1055.0, 471.7),
]
for tx, ty, hx, hy in ARROWS:
    annotations.append(dict(x=px(hx), y=py(hy), xref="paper", yref="paper", text="", showarrow=True,
                            ax=tx - hx, ay=ty - hy, arrowhead=2, arrowsize=1.0, arrowwidth=3,
                            arrowcolor="black", standoff=0, startstandoff=0))

# ---- panel letters ----
for letter, y in (("A", 15), ("B", 225), ("C", 415)):
    annotations.append(dict(x=px(14), y=py(y), xref="paper", yref="paper", text="<b>" + letter + "</b>",
                            showarrow=False, xanchor="left", yanchor="top", width=43, height=42,
                            bgcolor="#1e4f9e", borderpad=0, align="center", valign="middle",
                            font=dict(family=FONT, size=28, color="white")))

layout["annotations"] = annotations
layout["shapes"] = shapes
fig.update_layout(**layout)
# remove the browser's default 8px page margin so the figure sits at the window origin
fig.write_html("out.html", config={"displayModeBar": False, "staticPlot": True},
               post_script="document.body.style.margin='0';document.body.style.padding='0';")
